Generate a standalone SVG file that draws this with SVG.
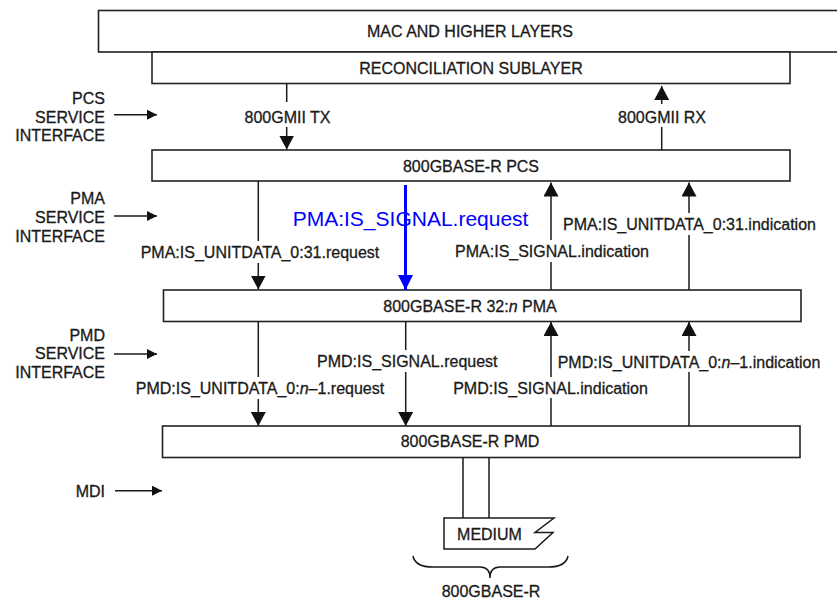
<svg xmlns="http://www.w3.org/2000/svg" width="837" height="600" viewBox="0 0 837 600">
<style>
text{font-family:"Liberation Sans",Arial,sans-serif;font-size:16px;fill:#1a1a1a;stroke:#1a1a1a;stroke-width:0.3}
.c{text-anchor:middle}
.r{text-anchor:end}
.box{fill:#fff;stroke:#222;stroke-width:1.6}
.ln{stroke:#1a1a1a;stroke-width:1.5;fill:none}
.blue{stroke:#0000ff;stroke-width:3;fill:none}
.bt{fill:#0000ff;stroke:none;font-size:21px}
</style>
<defs>
<marker id="ah" markerUnits="userSpaceOnUse" markerWidth="16" markerHeight="16" refX="14" refY="7.5" orient="auto"><path d="M0,0 L14,7.5 L0,15 Z" fill="#111"/></marker>
<marker id="as" markerUnits="userSpaceOnUse" markerWidth="12" markerHeight="12" refX="10" refY="5" orient="auto"><path d="M0,0 L10,5 L0,10 Z" fill="#111"/></marker>
<marker id="ab" markerUnits="userSpaceOnUse" markerWidth="16" markerHeight="16" refX="15" refY="7.5" orient="auto"><path d="M0,0 L15,7.5 L0,15 Z" fill="#0000ff"/></marker>
</defs>

<g id="mac"><rect class="box" x="98.5" y="10.5" width="745" height="41.5"/><text class="c" x="470" y="36.5">MAC AND HIGHER LAYERS</text></g>
<g id="rs"><rect class="box" x="152" y="52" width="638" height="31.5"/><text class="c" x="471" y="74">RECONCILIATION SUBLAYER</text></g>
<g id="pcs"><rect class="box" x="152" y="150" width="638" height="31"/><text class="c" x="471" y="172">800GBASE-R PCS</text></g>
<g id="pma"><rect class="box" x="163.5" y="290" width="637.5" height="31.5"/><text class="c" x="470" y="312">800GBASE-R 32:<tspan font-style="italic">n</tspan> PMA</text></g>
<g id="pmd"><rect class="box" x="162.5" y="426" width="637.5" height="31.5"/><text class="c" x="470" y="447">800GBASE-R PMD</text></g>
<g id="medium"><path class="ln" d="M463,457.5 V518 M489,457.5 V518"/><path class="ln" d="M444,518 H554 L535,532.5 H553 L535,549 H444 Z" fill="#fff"/><text class="c" x="489.5" y="540">MEDIUM</text></g>
<g id="brace"><path class="ln" d="M413,556 Q415,567 433,567 H480 Q490,567 490,578 Q490,567 500,567 H548 Q566,567 568,556"/><text class="c" x="491" y="596.5">800GBASE-R</text></g>

<g id="labels">
<text class="r" x="105" y="104">PCS</text><text class="r" x="105" y="122.7">SERVICE</text><text class="r" x="105" y="140.5">INTERFACE</text>
<text class="r" x="105" y="203.5">PMA</text><text class="r" x="105" y="222.7">SERVICE</text><text class="r" x="105" y="241.7">INTERFACE</text>
<text class="r" x="105" y="340.5">PMD</text><text class="r" x="105" y="359.3">SERVICE</text><text class="r" x="105" y="378.3">INTERFACE</text>
<text class="r" x="105" y="496.5">MDI</text>
</g>

<g id="connectors">
<line class="ln" x1="114" y1="114.7" x2="157" y2="114.7" marker-end="url(#as)"/>
<line class="ln" x1="114" y1="216" x2="157" y2="216" marker-end="url(#as)"/>
<line class="ln" x1="114" y1="354" x2="157" y2="354" marker-end="url(#as)"/>
<line class="ln" x1="115" y1="490.7" x2="162" y2="490.7" marker-end="url(#as)"/>

<line class="ln" x1="286.7" y1="83.5" x2="286.7" y2="102"/>
<line class="ln" x1="286.7" y1="127" x2="286.7" y2="149.5" marker-end="url(#ah)"/>
<text class="c" x="287.5" y="122.5">800GMII TX</text>

<line class="ln" x1="661.7" y1="150" x2="661.7" y2="127"/>
<line class="ln" x1="661.7" y1="104" x2="661.7" y2="86" marker-end="url(#ah)"/>
<text class="c" x="662" y="122.5">800GMII RX</text>

<line class="ln" x1="258.3" y1="181" x2="258.3" y2="241"/>
<line class="ln" x1="258.3" y1="263" x2="258.3" y2="289.5" marker-end="url(#ah)"/>
<text class="c" x="260" y="257.8">PMA:IS_UNITDATA_0:31.request</text>

<line class="ln" x1="551" y1="290" x2="551" y2="262"/>
<line class="ln" x1="551" y1="240" x2="551" y2="182.5" marker-end="url(#ah)"/>
<text class="c" x="552" y="256.5">PMA:IS_SIGNAL.indication</text>

<line class="ln" x1="689" y1="290" x2="689" y2="235"/>
<line class="ln" x1="689" y1="213" x2="689" y2="182.5" marker-end="url(#ah)"/>
<text class="c" x="689.5" y="229.8">PMA:IS_UNITDATA_0:31.indication</text>

<text class="bt" x="292.7" y="225.7">PMA:IS_SIGNAL.request</text>
<line class="blue" x1="405.5" y1="185" x2="405.5" y2="290" marker-end="url(#ab)"/>

<line class="ln" x1="258.3" y1="322" x2="258.3" y2="377"/>
<line class="ln" x1="258.3" y1="399" x2="258.3" y2="426" marker-end="url(#ah)"/>
<text class="c" x="260" y="393.8">PMD:IS_UNITDATA_0:<tspan font-style="italic">n</tspan>–1.request</text>

<line class="ln" x1="405.7" y1="322" x2="405.7" y2="350"/>
<line class="ln" x1="405.7" y1="372" x2="405.7" y2="426" marker-end="url(#ah)"/>
<text class="c" x="407.3" y="366.5">PMD:IS_SIGNAL.request</text>

<line class="ln" x1="551" y1="426" x2="551" y2="398"/>
<line class="ln" x1="551" y1="377" x2="551" y2="322" marker-end="url(#ah)"/>
<text class="c" x="550.5" y="393.8">PMD:IS_SIGNAL.indication</text>

<line class="ln" x1="689" y1="426" x2="689" y2="372"/>
<line class="ln" x1="689" y1="351" x2="689" y2="322" marker-end="url(#ah)"/>
<text class="c" x="689" y="367.5">PMD:IS_UNITDATA_0:<tspan font-style="italic">n</tspan>–1.indication</text>
</g>
</svg>
